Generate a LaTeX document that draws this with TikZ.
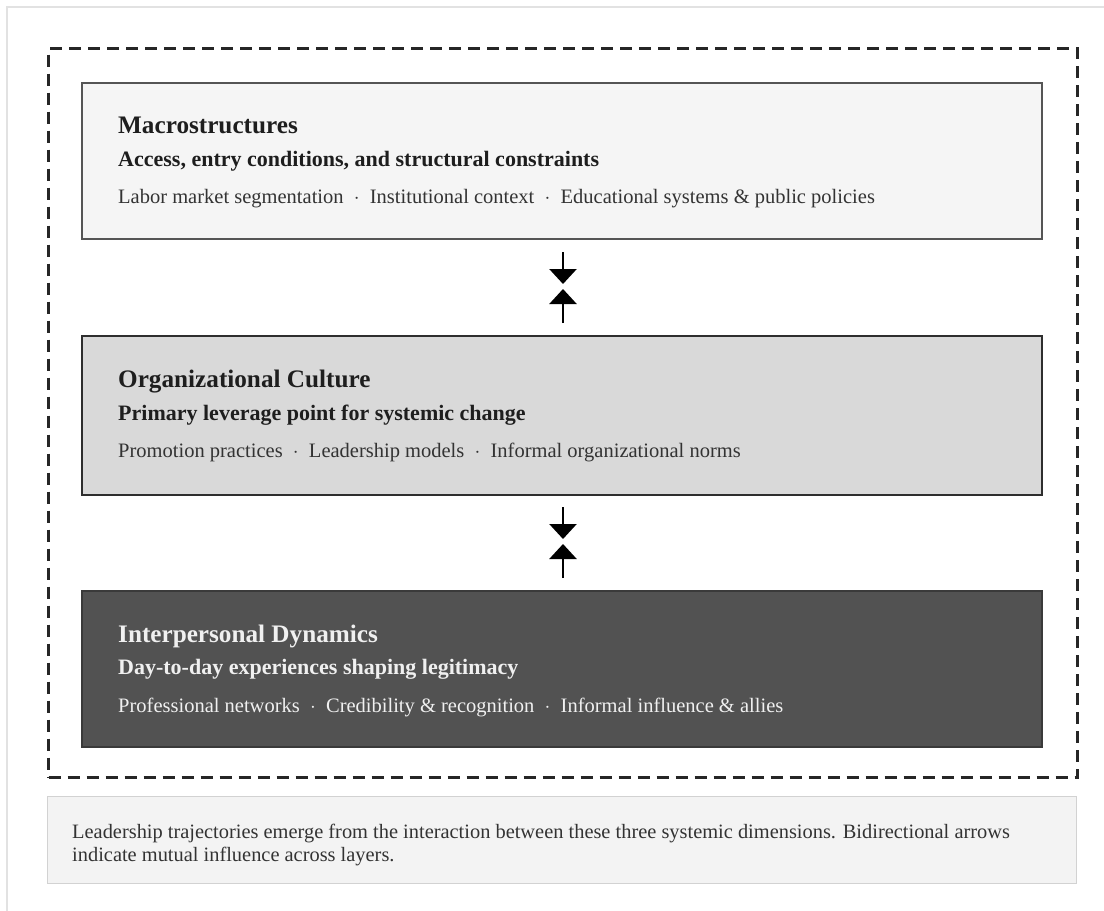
\documentclass[tikz,border=0pt]{standalone}
\usepackage{fontspec}
\setmainfont{Liberation Serif}
\usetikzlibrary{arrows.meta,calc}
\definecolor{frameg}{HTML}{E2E2E2}
\definecolor{b1fill}{HTML}{F5F5F5}
\definecolor{b1draw}{HTML}{555555}
\definecolor{b2fill}{HTML}{D9D9D9}
\definecolor{b2draw}{HTML}{2E2E2E}
\definecolor{b3fill}{HTML}{525252}
\definecolor{b3draw}{HTML}{3A3A3A}
\definecolor{capfill}{HTML}{F3F3F3}
\definecolor{capdraw}{HTML}{D2D2D2}
\definecolor{txtdark}{HTML}{1E1E1E}
\definecolor{txtbody}{HTML}{333333}
\definecolor{txtlight}{HTML}{F0F0F0}
\tikzset{
  layer/.style={rectangle, minimum width=960pt, minimum height=156pt, inner sep=0pt, anchor=north west},
  ttl/.style={anchor=base west, inner sep=0pt, font=\fontsize{25.2}{30}\selectfont\bfseries},
  sub/.style={anchor=base west, inner sep=0pt, font=\fontsize{22}{26}\selectfont\bfseries},
  bod/.style={anchor=base west, inner sep=0pt, font=\fontsize{20.5}{24}\selectfont},
  arr/.style={line width=2.6pt, -{Triangle[width=27pt,length=15pt]}, black},
}
\begin{document}
\begin{tikzpicture}[x=1pt,y=-1pt]
\useasboundingbox (0,0) rectangle (1104,911);
\fill[white] (0,0) rectangle (1104,911);
% page frame
\draw[frameg, line width=1.5pt] (7,911) -- (7,7) -- (1104,7);
% dashed group
\node[draw=black!85, line width=3pt, dash pattern=on 12pt off 7pt, rectangle, minimum width=1029pt, minimum height=729pt, inner sep=0pt, anchor=north west] (grp) at (47,47) {};
% layers
\node[layer, fill=b1fill, draw=b1draw, line width=1.5pt] (b1) at (81,82) {};
\node[layer, fill=b2fill, draw=b2draw, line width=2.2pt, minimum height=159pt] (b2) at (81,335) {};
\node[layer, fill=b3fill, draw=b3draw, line width=1.5pt] (b3) at (81,590) {};
% texts box 1
\node[ttl, text=txtdark] (t1) at (118,133) {Macrostructures};
\node[sub, text=txtdark] (s1) at (118,166) {Access, entry conditions, and structural constraints};
\node[bod, text=txtbody] (d1) at (118,203) {Labor market segmentation\ \ $\cdot$\ \ Institutional context\ \ $\cdot$\ \ Educational systems \& public policies};
% texts box 2
\node[ttl, text=txtdark] (t2) at (118,387) {Organizational Culture};
\node[sub, text=txtdark] (s2) at (118,420) {Primary leverage point for systemic change};
\node[bod, text=txtbody] (d2) at (118,457) {Promotion practices\ \ $\cdot$\ \ Leadership models\ \ $\cdot$\ \ Informal organizational norms};
% texts box 3
\node[ttl, text=txtlight] (t3) at (118,642) {Interpersonal Dynamics};
\node[sub, text=txtlight] (s3) at (118,674) {Day-to-day experiences shaping legitimacy};
\node[bod, text=txtlight] (d3) at (118,712) {Professional networks\ \ $\cdot$\ \ Credibility \& recognition\ \ $\cdot$\ \ Informal influence \& allies};
% arrows
\coordinate (a1s) at (563,252);
\coordinate (a1e) at (563,284);
\coordinate (a2s) at (563,323);
\coordinate (a2e) at (563,289);
\coordinate (a3s) at (563,507);
\coordinate (a3e) at (563,539);
\coordinate (a4s) at (563,578);
\coordinate (a4e) at (563,544);
\draw[arr] (a1s) -- (a1e);
\draw[arr] (a2s) -- (a2e);
\draw[arr] (a3s) -- (a3e);
\draw[arr] (a4s) -- (a4e);
% caption
\node[rectangle, fill=capfill, draw=capdraw, line width=1.2pt, minimum width=1029pt, minimum height=87pt, inner sep=0pt, anchor=north west] (cap) at (47,796) {};
\node[anchor=base west, inner sep=0pt, align=left, text=txtbody, font=\fontsize{20.4}{23}\selectfont] (capt) at (72,861) {Leadership trajectories emerge from the interaction between these three systemic dimensions. Bidirectional arrows\\indicate mutual influence across layers.};
\end{tikzpicture}
\end{document}
